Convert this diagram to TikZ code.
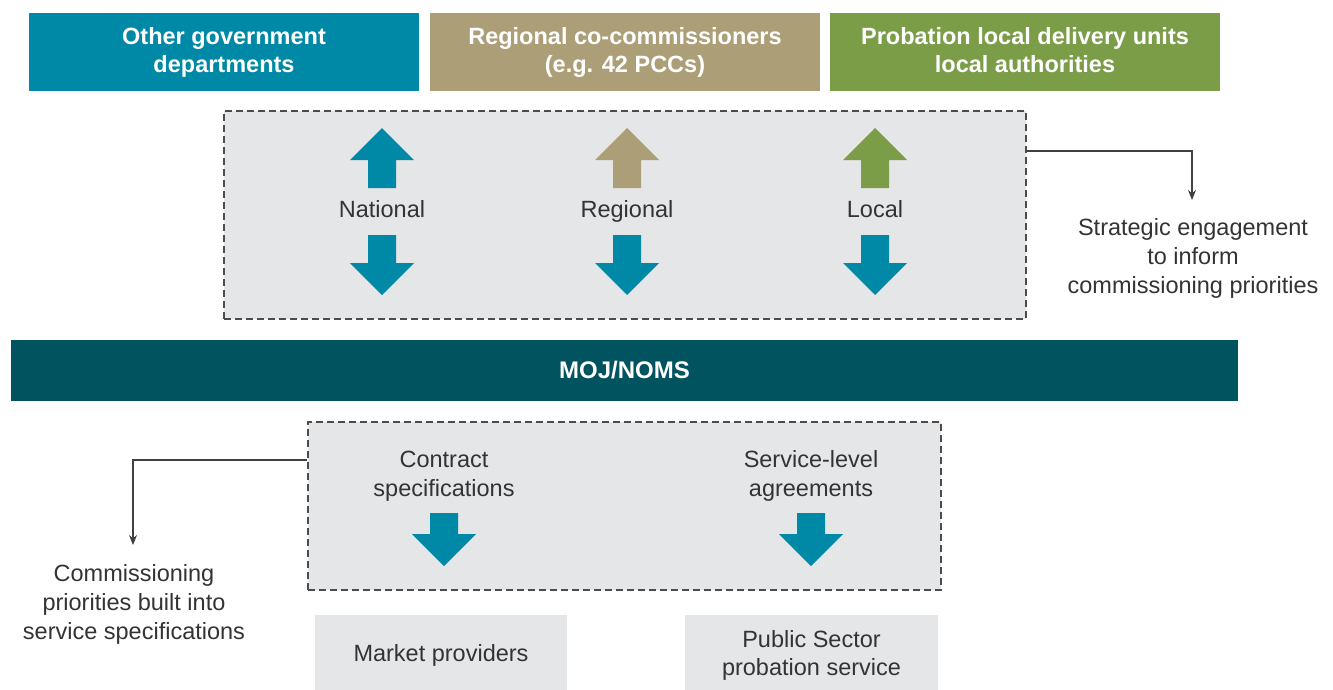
\documentclass[tikz,border=0pt]{standalone}
\usepackage{fontspec}
\setmainfont{Liberation Sans}
\usepackage{xcolor}
\usepackage{tikz}
\usetikzlibrary{arrows.meta, positioning}

\definecolor{nomsteal}{HTML}{0089A6}
\definecolor{nomstan}{HTML}{AC9E77}
\definecolor{nomsgreen}{HTML}{7B9D47}
\definecolor{nomsdark}{HTML}{00535F}
\definecolor{panelgrey}{HTML}{E5E6E7}
\definecolor{inkgrey}{HTML}{333333}

% block arrows used inside the dashed panels
\tikzset{
  upblock/.pic={\fill[#1] (0,-30) -- (32,2) -- (14,2) -- (14,30) -- (-14,30) -- (-14,2) -- (-32,2) -- cycle;},
  downblock/.pic={\fill[#1] (0,30) -- (32,-2) -- (14,-2) -- (14,-30) -- (-14,-30) -- (-14,-2) -- (-32,-2) -- cycle;},
  shortblock/.pic={\fill[#1] (0,26) -- (32,-6) -- (14,-6) -- (14,-27) -- (-14,-27) -- (-14,-6) -- (-32,-6) -- cycle;}
}

\begin{document}
\begin{tikzpicture}[x=1pt, y=-1pt]
\tikzstyle{header} = [rectangle, minimum width=390pt, minimum height=78pt, inner sep=0pt, align=center, text=white, font=\fontsize{23.5}{28}\selectfont\bfseries]
\tikzstyle{panel} = [rectangle, draw=black!70, dash pattern=on 7pt off 4pt, line width=1.1pt, fill=panelgrey, inner sep=0pt]
\tikzstyle{note} = [inner sep=0pt, align=center, text=inkgrey, font=\fontsize{23.5}{29}\selectfont]
\tikzstyle{unit} = [rectangle, fill=panelgrey, minimum width=252pt, minimum height=80pt, inner sep=0pt, align=center, text=inkgrey, font=\fontsize{23.5}{28}\selectfont]
\tikzstyle{arrow} = [line width=1.1pt, draw=black!75, -{Stealth[length=10pt, width=8pt]}]

\useasboundingbox (0,0) rectangle (1333,689);

% Partners along the top
\node (ogd) [header, fill=nomsteal] at (224,52) {Other government\\departments};
\node (pcc) [header, fill=nomstan] at (625,52) {Regional co-commissioners\\(e.g. 42 PCCs)};
\node (ldu) [header, fill=nomsgreen] at (1025,52) {Probation local delivery units\\local authorities\vphantom{p}};

% Engagement panel
\node (strat) [panel, minimum width=802pt, minimum height=208pt] at (625,215) {};
\pic at (382,158) {upblock=nomsteal};
\pic at (627,158) {upblock=nomstan};
\pic at (875,158) {upblock=nomsgreen};
\node (national) [note] at (382,209) {National};
\node (regional) [note, anchor=base] at (627,217.5) {Regional};
\node (local) [note] at (875,209) {Local};
\pic at (382,265) {downblock=nomsteal};
\pic at (627,265) {downblock=nomsteal};
\pic at (875,265) {downblock=nomsteal};

\coordinate (engtip) at (1192,200);
\node (engage) [note] at (1193,258) {Strategic engagement\\to inform\\commissioning priorities};

% MOJ/NOMS bar
\node (moj) [rectangle, fill=nomsdark, minimum width=1227pt, minimum height=61pt, text=white, font=\fontsize{24}{28}\selectfont\bfseries] at (624.5,370.5) {MOJ/NOMS};

% Specification panel
\node (specs) [panel, minimum width=633pt, minimum height=168pt] at (624.5,506) {};
\node (contract) [note] at (444,476) {Contract\\specifications};
\node (sla) [note] at (811,476) {Service-level\\agreements};
\pic at (444,540) {shortblock=nomsteal};
\pic at (811,540) {shortblock=nomsteal};

\coordinate (comtip) at (133,545);
\node (built) [note] at (134,604) {Commissioning\\priorities built into\\service specifications};

% Providers (boxes run off the bottom edge)
\node (market) [unit] at (441,655) {Market providers};
\node (public) [unit, minimum width=253pt] at (811.5,655) {Public Sector\\probation service};

% Connectors
\draw [arrow] ([yshift=64pt]strat.east) -| (engtip);
\draw [arrow] ([yshift=46pt]specs.west) -| (comtip);
\end{tikzpicture}
\end{document}
